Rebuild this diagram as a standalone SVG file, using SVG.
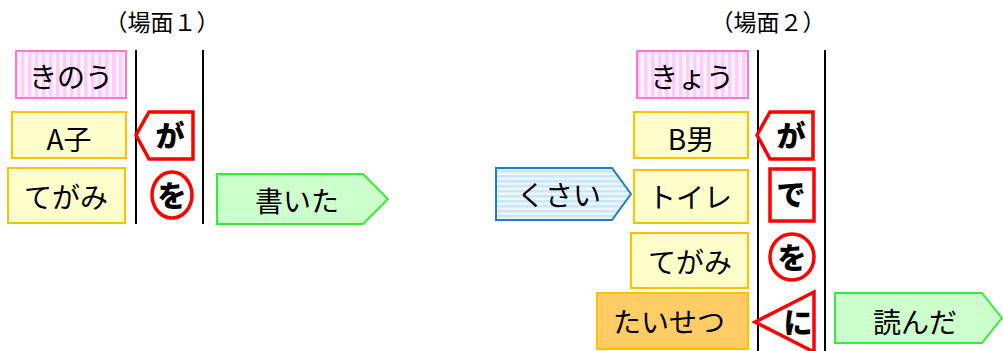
<svg xmlns="http://www.w3.org/2000/svg" width="1003" height="351" viewBox="0 0 1003 351">
<defs>
<pattern id="pinkStripe" patternUnits="userSpaceOnUse" width="7" height="10">
<rect width="7" height="10" fill="#FFF2FF"/>
<rect width="3.5" height="10" fill="#FFCCFF"/>
</pattern>
<pattern id="blueStripe" patternUnits="userSpaceOnUse" width="10" height="5">
<rect width="10" height="5" fill="#EEF7FF"/>
<rect width="10" height="2.5" fill="#C9E6FA"/>
</pattern>
</defs>
<style>
.t{font-family:"Noto Sans CJK JP","Noto Sans CJK SC",sans-serif;font-size:28px;fill:#000;text-anchor:middle}
.title{font-family:"Noto Sans CJK JP","Noto Sans CJK SC",sans-serif;font-size:23px;fill:#000;text-anchor:middle}
.p{font-family:"Noto Sans CJK JP","Noto Sans CJK SC",sans-serif;font-size:29px;font-weight:900;fill:#000;text-anchor:middle}
.pink{fill:url(#pinkStripe);stroke:#FF77CC;stroke-width:2}
.yel{fill:#FFFFCC;stroke:#FFC000;stroke-width:2}
.org{fill:#FFCC66;stroke:#FFC000;stroke-width:2}
.grn{fill:#CCFFCC;stroke:#33EE33;stroke-width:2}
.blu{fill:url(#blueStripe);stroke:#1E7CC8;stroke-width:2}
.red{fill:#FFFFFF;stroke:#FF0000;stroke-width:3.5}
.vl{stroke:#000;stroke-width:2}
</style>
<g id="titles">
<text class="title" x="162" y="31">（場面１）</text>
<text class="title" x="768" y="31">（場面２）</text>
</g>
<g id="connectors">
<line class="vl" x1="136" y1="50" x2="136" y2="224"/>
<line class="vl" x1="203" y1="50" x2="203" y2="224"/>
<line class="vl" x1="758" y1="50" x2="758" y2="351"/>
<line class="vl" x1="825" y1="50" x2="825" y2="351"/>
</g>
<g id="s1-kinou"><rect class="pink" x="16" y="51" width="110" height="47"/><text class="t" x="71" y="88">きのう</text></g>
<g id="s1-ako"><rect class="yel" x="12" y="112" width="114" height="46"/><text class="t" x="69" y="150">A子</text></g>
<g id="s1-tegami"><rect class="yel" x="8" y="168" width="117" height="55"/><text class="t" x="66" y="208">てがみ</text></g>
<g id="s1-ga"><polygon class="red" points="136,135 149,112 193,112 193,159 149,159"/><text class="p" x="170" y="147">が</text></g>
<g id="s1-wo"><ellipse class="red" cx="172" cy="195" rx="20" ry="23"/><text class="p" x="172" y="207">を</text></g>
<g id="s1-kaita"><polygon class="grn" points="217,174 363,174 388,199 363,224 217,224"/><text class="t" x="297" y="212">書いた</text></g>
<g id="s2-kyou"><rect class="pink" x="637" y="51" width="111" height="47"/><text class="t" x="692" y="88">きょう</text></g>
<g id="s2-bo"><rect class="yel" x="634" y="112" width="114" height="46"/><text class="t" x="691" y="150">B男</text></g>
<g id="s2-ga"><polygon class="red" points="757,135 770,112 813,112 813,159 770,159"/><text class="p" x="791" y="147">が</text></g>
<g id="s2-kusai"><polygon class="blu" points="496,168 612,168 631,194 612,220 496,220"/><text class="t" x="559" y="206">くさい</text></g>
<g id="s2-toire"><rect class="yel" x="634" y="170" width="114" height="53"/><text class="t" x="690" y="208">トイレ</text></g>
<g id="s2-de"><rect class="red" x="770" y="169" width="44" height="52"/><text class="p" x="791" y="206">で</text></g>
<g id="s2-tegami"><rect class="yel" x="631" y="233" width="117" height="55"/><text class="t" x="690" y="273">てがみ</text></g>
<g id="s2-wo"><ellipse class="red" cx="792" cy="257" rx="22" ry="23"/><text class="p" x="792" y="269">を</text></g>
<g id="s2-taisetsu"><rect class="org" x="597" y="293" width="151" height="56"/><text class="t" x="669" y="333">たいせつ</text></g>
<g id="s2-ni"><polygon class="red" points="755,322 814,292 814,352"/><text class="p" x="798" y="334">に</text></g>
<g id="s2-yonda"><polygon class="grn" points="835,293 982,293 1002,318 982,343 835,343"/><text class="t" x="915" y="333">読んだ</text></g>
</svg>
